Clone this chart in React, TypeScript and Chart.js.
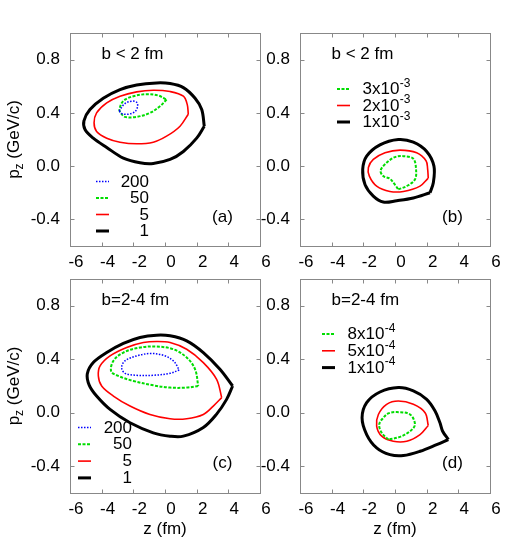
import React, { useEffect, useRef } from "react";
import { Chart, registerables } from "chart.js";

Chart.register(...registerables);

type Pt = [number, number];

// ---------- axis ticks ----------
const zTicks = [-6, -4, -2, 0, 2, 4, 6];
const pzTicks = [-0.4, 0.0, 0.4, 0.8];

// ---------- panel (a): b < 2 fm ----------
const a200: Pt[] = [[-2.9, 0.415], [-2.53, 0.47], [-2.1, 0.488], [-1.79, 0.48], [-1.73, 0.45], [-1.89, 0.41], [-2.32, 0.39], [-2.74, 0.395]];
const a50: Pt[] = [[0.1, 0.5], [-0.32, 0.45], [-0.95, 0.4], [-1.79, 0.37], [-2.53, 0.37], [-2.8, 0.4], [-2.88, 0.425], [-2.63, 0.49], [-2.0, 0.525], [-1.16, 0.54], [-0.42, 0.53]];
const a5: Pt[] = [[1.47, 0.39], [0.95, 0.3], [0.1, 0.225], [-0.74, 0.18], [-1.79, 0.168], [-2.84, 0.18], [-3.68, 0.21], [-4.32, 0.26], [-4.48, 0.325], [-4.32, 0.4], [-3.68, 0.475], [-2.84, 0.525], [-1.79, 0.558], [-0.74, 0.57], [0.32, 0.56], [1.16, 0.525], [1.41, 0.46]];
const a1: Pt[] = [[2.48, 0.3], [2.0, 0.21], [1.16, 0.11], [0.32, 0.05], [-0.74, 0.02], [-1.58, 0.025], [-2.63, 0.06], [-3.68, 0.14], [-4.53, 0.21], [-5.05, 0.275], [-5.12, 0.34], [-4.74, 0.425], [-3.9, 0.51], [-2.84, 0.575], [-1.79, 0.61], [-0.53, 0.625], [0.32, 0.62], [1.16, 0.59], [1.9, 0.51], [2.32, 0.425]];

// ---------- panel (b): b < 2 fm ----------
const b3: Pt[] = [[0.21, -0.175], [0.74, -0.15], [1.26, -0.1], [1.33, -0.025], [1.16, 0.055], [0.53, 0.075], [0.0, 0.068], [-0.53, 0.025], [-0.91, -0.033], [-0.74, -0.075], [-0.32, -0.095], [0.0, -0.14]];
const b2: Pt[] = [[2.1, -0.09], [1.58, -0.15], [0.53, -0.19], [-0.32, -0.19], [-1.16, -0.15], [-1.62, -0.075], [-1.68, -0.01], [-1.37, 0.05], [-0.63, 0.1], [0.32, 0.12], [1.37, 0.1], [1.96, 0.04], [2.06, -0.02]];
const b1: Pt[] = [[2.21, -0.2], [1.16, -0.24], [0.11, -0.26], [-0.74, -0.27], [-1.37, -0.225], [-1.89, -0.14], [-2.04, -0.025], [-1.79, 0.075], [-0.95, 0.16], [0.21, 0.2], [1.16, 0.18], [2.0, 0.11], [2.46, 0.0], [2.42, -0.125]];

// ---------- panel (c): b = 2-4 fm ----------
const c200: Pt[] = [[0.9, 0.32], [0.32, 0.295], [-0.74, 0.28], [-1.79, 0.28], [-2.53, 0.295], [-2.74, 0.338], [-2.53, 0.388], [-1.79, 0.425], [-0.95, 0.443], [-0.11, 0.43], [0.53, 0.388]];
const c50: Pt[] = [[2.1, 0.2], [1.37, 0.188], [0.32, 0.188], [-0.74, 0.205], [-2.0, 0.238], [-2.95, 0.275], [-3.4, 0.31], [-3.26, 0.388], [-2.63, 0.45], [-1.58, 0.488], [-0.53, 0.495], [0.53, 0.475], [1.37, 0.413], [1.9, 0.325]];
const c5: Pt[] = [[3.58, 0.113], [3.05, 0.05], [2.42, -0.013], [1.37, -0.045], [0.32, -0.045], [-0.95, -0.013], [-2.21, 0.05], [-3.26, 0.125], [-4.0, 0.2], [-4.21, 0.275], [-4.1, 0.35], [-3.47, 0.425], [-2.42, 0.488], [-1.37, 0.525], [-0.53, 0.533], [0.32, 0.525], [1.37, 0.475], [2.42, 0.375], [3.26, 0.25]];
const c1: Pt[] = [[4.27, 0.2], [3.89, 0.1], [3.26, -0.01], [2.42, -0.11], [1.16, -0.175], [0.32, -0.175], [-0.74, -0.15], [-2.21, -0.075], [-3.47, 0.025], [-4.32, 0.125], [-4.78, 0.205], [-4.91, 0.29], [-4.53, 0.375], [-3.68, 0.45], [-2.63, 0.518], [-1.58, 0.563], [-0.53, 0.58], [0.32, 0.575], [1.37, 0.538], [2.42, 0.45], [3.47, 0.325]];

// ---------- panel (d): b = 2-4 fm ----------
const d8: Pt[] = [[-0.42, -0.2], [-0.84, -0.15], [-1.0, -0.088], [-0.74, -0.038], [-0.42, -0.005], [0.11, 0.005], [0.95, -0.013], [1.26, -0.088], [0.95, -0.138], [0.32, -0.18]];
const d5: Pt[] = [[2.1, -0.095], [1.58, -0.163], [0.74, -0.213], [-0.11, -0.213], [-0.84, -0.175], [-1.16, -0.1], [-1.05, -0.013], [-0.53, 0.063], [0.21, 0.088], [1.16, 0.063], [1.9, 0.0]];
const d1: Pt[] = [[3.37, -0.2], [2.63, -0.238], [1.58, -0.288], [0.53, -0.32], [-0.32, -0.313], [-1.16, -0.263], [-1.79, -0.163], [-2.08, -0.038], [-1.79, 0.075], [-0.95, 0.155], [0.21, 0.188], [1.16, 0.163], [2.0, 0.1], [2.53, 0.013], [2.84, -0.075], [3.01, -0.138]];

// ---------- legend labels ----------
const legendA = ["200", "50", "5", "1"];
const legendB = ["3x10", "2x10", "1x10"];
const expB = "-3";
const legendD = ["8x10", "5x10", "1x10"];
const expD = "-4";

// ---------- styles ----------
const FONT = '"Liberation Sans", Arial, Helvetica, sans-serif';
const FS = 17;
const FSS = 12;
type Sty = { color: string; width: number; dash: number[] };
const sBlue: Sty = { color: "#0000ff", width: 1.5, dash: [1.5, 1.5] };
const sGreen: Sty = { color: "#00dd00", width: 2, dash: [3, 1.5] };
const sRed: Sty = { color: "#ff0000", width: 1.6, dash: [] };
const sBlack: Sty = { color: "#000000", width: 3, dash: [] };

const W = 520;
const H = 560;
const YW = 60;
const XH = 30;

type Curve = { data: Pt[]; sty: Sty; label: string; exp?: string };
type PanelCfg = {
  area: { l: number; t: number; r: number; b: number };
  title: string;
  tag: string;
  yTitle: boolean;
  xTitle: boolean;
  curves: Curve[];
  legend: { sx: number; tx: number; y0: number; dy: number; align: "right" | "left" };
};

const panels: PanelCfg[] = [
  {
    area: { l: 70, t: 33, r: 260, b: 246 },
    title: "b < 2 fm",
    tag: "(a)",
    yTitle: true,
    xTitle: false,
    curves: [
      { data: a200, sty: sBlue, label: legendA[0] },
      { data: a50, sty: sGreen, label: legendA[1] },
      { data: a5, sty: sRed, label: legendA[2] },
      { data: a1, sty: sBlack, label: legendA[3] },
    ],
    legend: { sx: 26, tx: 79, y0: 148.5, dy: 16.5, align: "right" },
  },
  {
    area: { l: 300, t: 33, r: 490, b: 246 },
    title: "b < 2 fm",
    tag: "(b)",
    yTitle: false,
    xTitle: false,
    curves: [
      { data: b3, sty: sGreen, label: legendB[0], exp: expB },
      { data: b2, sty: sRed, label: legendB[1], exp: expB },
      { data: b1, sty: sBlack, label: legendB[2], exp: expB },
    ],
    legend: { sx: 37, tx: 62.5, y0: 56, dy: 16.5, align: "left" },
  },
  {
    area: { l: 70, t: 279, r: 260, b: 493 },
    title: "b=2-4 fm",
    tag: "(c)",
    yTitle: true,
    xTitle: true,
    curves: [
      { data: c200, sty: sBlue, label: legendA[0] },
      { data: c50, sty: sGreen, label: legendA[1] },
      { data: c5, sty: sRed, label: legendA[2] },
      { data: c1, sty: sBlack, label: legendA[3] },
    ],
    legend: { sx: 8, tx: 62, y0: 148.5, dy: 16.8, align: "right" },
  },
  {
    area: { l: 300, t: 279, r: 490, b: 493 },
    title: "b=2-4 fm",
    tag: "(d)",
    yTitle: false,
    xTitle: true,
    curves: [
      { data: d8, sty: sGreen, label: legendD[0], exp: expD },
      { data: d5, sty: sRed, label: legendD[1], exp: expD },
      { data: d1, sty: sBlack, label: legendD[2], exp: expD },
    ],
    legend: { sx: 22, tx: 47.5, y0: 55, dy: 16.8, align: "left" },
  },
];

function closeLoop(pts: Pt[]) {
  const out = pts.map(([x, y]) => ({ x, y }));
  out.push({ x: pts[0][0], y: pts[0][1] });
  return out;
}

function makeDecor(cfg: PanelCfg) {
  return {
    id: "decor",
    afterDraw(chart: any) {
      const { ctx, chartArea: ca } = chart;
      const xs = chart.scales.x;
      const ys = chart.scales.y;
      ctx.save();
      // frame
      ctx.strokeStyle = "#888";
      ctx.lineWidth = 1;
      ctx.setLineDash([]);
      const L = Math.round(ca.left) + 0.5;
      const T = Math.round(ca.top) + 0.5;
      const R = Math.round(ca.right) + 0.5;
      const B = Math.round(ca.bottom) + 0.5;
      ctx.strokeRect(L, T, R - L, B - T);
      const tl = 4;
      ctx.beginPath();
      for (const v of zTicks) {
        const px = Math.round(xs.getPixelForValue(v)) + 0.5;
        ctx.moveTo(px, B);
        ctx.lineTo(px, B - tl);
        ctx.moveTo(px, T);
        ctx.lineTo(px, T + tl);
      }
      for (const v of pzTicks) {
        const py = Math.round(ys.getPixelForValue(v)) + 0.5;
        ctx.moveTo(L, py);
        ctx.lineTo(L + tl, py);
        ctx.moveTo(R, py);
        ctx.lineTo(R - tl, py);
      }
      ctx.stroke();

      ctx.fillStyle = "#000";
      ctx.font = `${FS}px ${FONT}`;
      ctx.textBaseline = "middle";
      // title
      ctx.textAlign = "left";
      ctx.fillText(cfg.title, ca.left + 31.5, ca.top + 21.5);
      // tag
      ctx.textAlign = "center";
      ctx.fillText(cfg.tag, ca.left + 152.5, ca.top + 184.5);

      // legend
      const lg = cfg.legend;
      cfg.curves.forEach((c, i) => {
        const yy = ca.top + lg.y0 + i * lg.dy;
        ctx.strokeStyle = c.sty.color;
        ctx.lineWidth = c.sty.width;
        ctx.setLineDash(c.sty.dash);
        ctx.beginPath();
        ctx.moveTo(ca.left + lg.sx, yy);
        ctx.lineTo(ca.left + lg.sx + 13, yy);
        ctx.stroke();
        ctx.setLineDash([]);
        ctx.fillStyle = "#000";
        ctx.font = `${FS}px ${FONT}`;
        if (lg.align === "right") {
          ctx.textAlign = "right";
          ctx.fillText(c.label, ca.left + lg.tx, yy + 0.5);
        } else {
          ctx.textAlign = "left";
          const x0 = ca.left + lg.tx;
          ctx.fillText(c.label, x0, yy + 0.5);
          const w = ctx.measureText(c.label).width;
          if (c.exp) {
            ctx.font = `${FSS}px ${FONT}`;
            ctx.fillText(c.exp, x0 + w + 0.5, yy - 5.5);
          }
        }
      });

      // axis titles
      ctx.fillStyle = "#000";
      if (cfg.xTitle) {
        ctx.font = `${FS}px ${FONT}`;
        ctx.textAlign = "center";
        ctx.textBaseline = "middle";
        ctx.fillText("z (fm)", (ca.left + ca.right) / 2, ca.bottom + 36);
      }
      if (cfg.yTitle) {
        const cy = (ca.top + ca.bottom) / 2;
        ctx.translate(14, cy);
        ctx.rotate(-Math.PI / 2);
        ctx.textBaseline = "alphabetic";
        ctx.textAlign = "left";
        ctx.font = `${FS}px ${FONT}`;
        const w1 = ctx.measureText("p").width;
        const w3 = ctx.measureText(" (GeV/c)").width;
        ctx.font = `${FSS}px ${FONT}`;
        const w2 = ctx.measureText("z").width;
        const start = -(w1 + w2 + w3) / 2;
        ctx.font = `${FS}px ${FONT}`;
        ctx.fillText("p", start, 5);
        ctx.font = `${FSS}px ${FONT}`;
        ctx.fillText("z", start + w1, 8.5);
        ctx.font = `${FS}px ${FONT}`;
        ctx.fillText(" (GeV/c)", start + w1 + w2, 5);
      }
      ctx.restore();
    },
  };
}

function Panel({ cfg }: { cfg: PanelCfg }) {
  const ref = useRef<HTMLCanvasElement>(null);
  useEffect(() => {
    const a = cfg.area;
    const chart = new Chart(ref.current as HTMLCanvasElement, {
      type: "scatter",
      data: {
        datasets: cfg.curves.map((c) => ({
          data: closeLoop(c.data),
          showLine: true,
          borderColor: c.sty.color,
          backgroundColor: c.sty.color,
          borderWidth: c.sty.width,
          borderDash: c.sty.dash,
          pointRadius: 0,
          pointHoverRadius: 0,
          tension: 0.35,
          fill: false,
        })),
      },
      options: {
        responsive: false,
        animation: false,
        events: [],
        layout: {
          padding: { left: a.l - YW, top: a.t, right: W - a.r, bottom: H - a.b - XH },
        },
        scales: {
          x: {
            type: "linear",
            position: "bottom",
            min: -6,
            max: 6,
            afterBuildTicks: (s: any) => {
              s.ticks = zTicks.map((v) => ({ value: v }));
            },
            afterFit: (s: any) => {
              s.height = XH;
              s.paddingLeft = 0;
              s.paddingRight = 0;
              s.paddingTop = 0;
              s.paddingBottom = 0;
            },
            grid: { display: false, drawTicks: false },
            border: { display: false },
            ticks: {
              padding: 6.5,
              labelOffset: 6,
              maxRotation: 0,
              autoSkip: false,
              color: "#000",
              font: { family: FONT, size: FS },
              callback: (v: any) => String(v),
            },
          },
          y: {
            type: "linear",
            position: "left",
            min: -0.6,
            max: 1.0,
            afterBuildTicks: (s: any) => {
              s.ticks = pzTicks.map((v) => ({ value: v }));
            },
            afterFit: (s: any) => {
              s.width = YW;
              s.paddingLeft = 0;
              s.paddingRight = 0;
              s.paddingTop = 0;
              s.paddingBottom = 0;
            },
            grid: { display: false, drawTicks: false },
            border: { display: false },
            ticks: {
              padding: 10,
              autoSkip: false,
              color: "#000",
              font: { family: FONT, size: FS },
              callback: (v: any) => Number(v).toFixed(1),
            },
          },
        },
        plugins: {
          legend: { display: false },
          tooltip: { enabled: false },
          title: { display: false },
        },
      } as any,
      plugins: [makeDecor(cfg)],
    });
    return () => chart.destroy();
  }, [cfg]);
  return (
    <canvas
      ref={ref}
      width={W}
      height={H}
      style={{ position: "absolute", left: 0, top: 0, width: W, height: H }}
    />
  );
}

export default function App() {
  return (
    <div
      style={{
        position: "fixed",
        left: 0,
        top: 0,
        width: W,
        height: H,
        background: "#fff",
        overflow: "hidden",
      }}
    >
      {panels.map((p, i) => (
        <Panel key={i} cfg={p} />
      ))}
    </div>
  );
}
